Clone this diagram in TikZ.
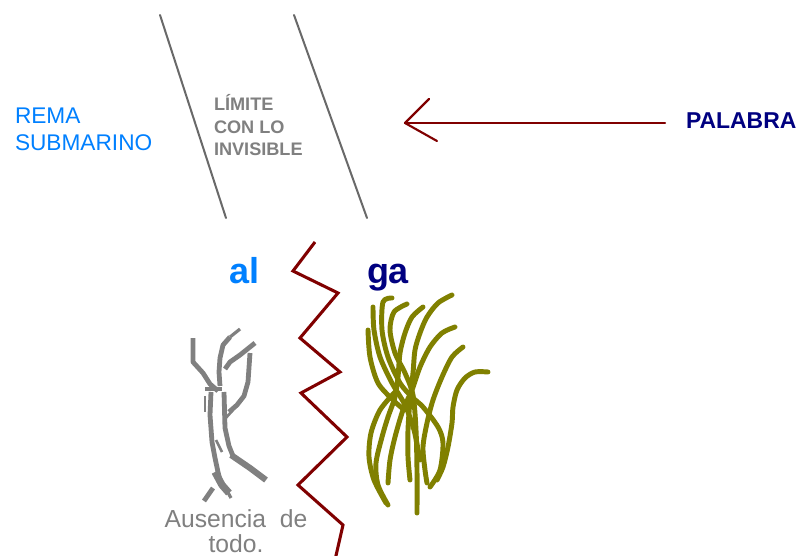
\documentclass[tikz,border=0pt]{standalone}
\usepackage{fontspec}
\setmainfont{Liberation Sans}
\definecolor{skyblue}{RGB}{0,128,255}
\definecolor{navyblue}{RGB}{0,0,128}
\definecolor{maroon}{RGB}{128,0,0}
\definecolor{olivegreen}{RGB}{128,128,0}
\definecolor{midgray}{RGB}{128,128,128}
\definecolor{edgegray}{RGB}{105,105,105}
\begin{document}
\begin{tikzpicture}[x=0.75pt,y=-0.75pt,
  txt/.style={inner sep=0pt,outer sep=0pt},
  border/.style={draw=edgegray,line width=1.5pt,line cap=round},
  arrowline/.style={draw=maroon,line width=1.6pt,line cap=round},
  zig/.style={draw=maroon,line width=2.3pt,line join=miter},
  weed/.style={draw=olivegreen,line width=3.7pt,line cap=round,line join=round},
  twig/.style={draw=midgray,line width=3.6pt,line cap=butt,line join=round}]
\fill[white] (0,0) rectangle (800,556);
\useasboundingbox (0,0) rectangle (800,556);

% slanted limits of the invisible zone
\draw[border] (160,15) -- (226,218);
\draw[border] (294,15) -- (367,218);

% labels
\node[txt,anchor=north west,align=left,text=skyblue,
  font=\fontsize{17}{20.3}\selectfont] (rema) at (15,108) {REMA\\SUBMARINO};
\node[txt,anchor=north west,align=left,text=midgray,
  font=\bfseries\fontsize{13.6}{17.2}\selectfont] (limite) at (214,94) {LÍMITE\\CON LO\\INVISIBLE};
\node[txt,anchor=base west,text=navyblue,
  font=\bfseries\fontsize{17.2}{20}\selectfont] (palabra) at (686,129) {PALABRA};

% arrow coming from PALABRA
\coordinate (arrowstart) at (665,123);
\coordinate (arrowtip) at (405,123);
\draw[arrowline] (arrowstart) -- (arrowtip);
\draw[arrowline] (arrowtip) -- (429,99);
\draw[arrowline] (arrowtip) -- (437,141);

% syllables
\node[txt,anchor=base west,text=skyblue,
  font=\bfseries\fontsize{27}{30}\selectfont] (al) at (229,283) {al};
\node[txt,anchor=base west,text=navyblue,
  font=\bfseries\fontsize{27}{30}\selectfont] (ga) at (367,283) {ga};

% zigzag split
\draw[zig] plot coordinates {(315,242) (293,271) (338,293) (300,338) (340,372)
  (301,393) (347,437) (298,485) (343,525) (335,560)};

% dry gray twig
\draw[twig] (193,338) -- (193,362) -- (203,373) -- (210,384) -- (218,391);
\draw[twig,line width=2.4pt] (240,329) -- (230,337);
\draw[twig] (230,337) -- (223,345) -- (220,358) -- (219,372) -- (220,386);
\draw[twig] (255,343) -- (240,355) -- (230,362) -- (225,369);
\draw[twig] (250,353) -- (248,382) -- (244,396) -- (237,405) -- (229,412);
\draw[twig] (205,389) -- (222,389);
\draw[twig] (211,392) -- (210,415) -- (212,442) -- (215,458) -- (218,472) -- (221,484);
\draw[line width=1.6pt,draw=midgray] (205,396) -- (205,412);
\draw[twig] (224,392) -- (225,428) -- (229,446) -- (233,456);
\draw[twig,line width=4.6pt] (231,455) -- (250,468) -- (266,480);
\draw[twig,line width=5.5pt] (215,472) -- (222,485) -- (229,493);
\draw[twig] (213,488) -- (204,501);
\draw[twig,line width=2.4pt] (225,487) -- (231,498);
\draw[twig,line width=2pt] (224,420) -- (233,410);
\draw[twig,line width=2pt] (216,440) -- (222,452);

% olive seaweed
\draw[weed] plot[smooth] coordinates {(373,307) (374,330) (380,357) (392,383) (405,405) (414,430) (420,460)};
\draw[weed] plot[smooth] coordinates {(392,298) (383,302) (382,330) (388,357) (400,383) (412,397) (423,407) (438,427) (443,443) (440,470) (430,487)};
\draw[weed] plot[smooth] coordinates {(407,304) (394,312) (390,330) (395,353) (405,373) (413,395) (416,430) (417,470) (417,513)};
\draw[weed] plot[smooth] coordinates {(423,307) (412,317) (405,333) (400,353) (398,377) (395,397) (388,417) (382,437) (376,463) (378,485) (388,505)};
\draw[weed] plot[smooth] coordinates {(452,295) (438,303) (427,317) (420,333) (415,350) (413,373) (410,400) (408,430) (408,457) (410,480)};
\draw[weed] plot[smooth] coordinates {(455,327) (442,333) (430,347) (420,367) (412,390) (403,410) (395,437) (390,460) (388,483)};
\draw[weed] plot[smooth] coordinates {(463,347) (452,357) (442,377) (433,400) (427,423) (423,447) (425,470) (427,483)};
\draw[weed] plot[smooth] coordinates {(488,372) (475,372) (465,378) (457,390) (453,407) (452,423) (448,447) (443,467) (437,480)};
\draw[weed] plot[smooth] coordinates {(368,330) (370,357) (378,383) (393,400) (402,408)};
\draw[weed] plot[smooth] coordinates {(395,392) (380,410) (371,433) (369,457) (374,480) (386,503)};

% caption under the twig (anchored on its last line)
\node[txt,anchor=base,align=center,text=midgray,
  font=\fontsize{18.5}{18.3}\selectfont] (ausencia) at (236,552) {Ausencia\ \ de\\todo.};
\end{tikzpicture}
\end{document}
